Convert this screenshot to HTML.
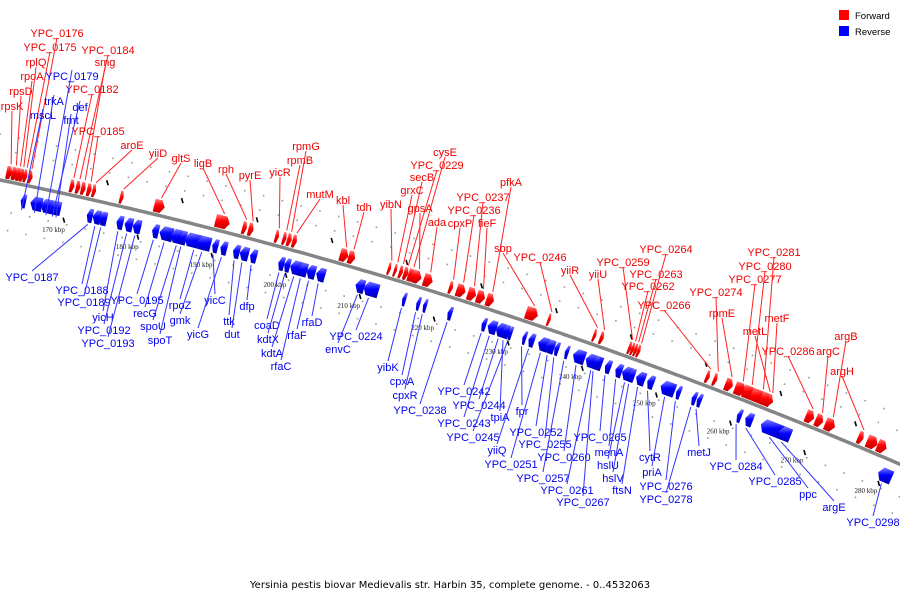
<!DOCTYPE html>
<html><head><meta charset="utf-8"><style>
body{margin:0;background:#fff;}
svg{display:block;font-family:"Liberation Sans",sans-serif;}
</style></head><body>
<svg id="chart" width="900" height="600" viewBox="0 0 900 600">
<defs>
<linearGradient id="gr" x1="0" y1="0" x2="0" y2="1"><stop offset="0" stop-color="#ff8080"/><stop offset="0.45" stop-color="#ff0000"/><stop offset="1" stop-color="#c00000"/></linearGradient>
<linearGradient id="gb" x1="0" y1="0" x2="0" y2="1"><stop offset="0" stop-color="#8080ff"/><stop offset="0.45" stop-color="#0000ff"/><stop offset="1" stop-color="#0000b0"/></linearGradient>
</defs>
<g id="marks"></g>
<g id="legend">
<rect x="839" y="10" width="10" height="10" fill="#f00"/>
<text x="855" y="19" font-size="9.5">Forward</text>
<rect x="839" y="26" width="10" height="10" fill="#00f"/>
<text x="855" y="35" font-size="9.5">Reverse</text>
</g>
<text x="450" y="588" text-anchor="middle" font-size="10" font-family="DejaVu Sans, sans-serif">Yersinia pestis biovar Medievalis str. Harbin 35, complete genome. - 0..4532063</text>
</svg>
<script>
// ---- data ----
const fwdNames=["rpsK","rpsD","rpoA","rplQ","YPC_0175","YPC_0176","YPC_0182","YPC_0184","smg","YPC_0185","aroE","yiiD","gltS","ligB","rph","pyrE","yicR","rpmB","rpmG","mutM","kbl","tdh","yibN","grxC","secB","YPC_0229","cysE","gpsA","ada","cpxP","YPC_0236","YPC_0237","fieF","pfkA","sbp","YPC_0246","yiiR","yiiU","YPC_0259","YPC_0262","YPC_0263","YPC_0264","YPC_0266","YPC_0274","rpmE","YPC_0277","YPC_0280","YPC_0281","metL","metF","YPC_0286","argC","argB","argH","","",""];
const fwdKbp=[162.3,163.0,163.6,164.1,164.6,165.2,170.8,171.6,172.3,173.1,173.8,177.5,182.1,190.3,193.9,194.7,198.3,199.3,199.9,200.6,207.0,208.1,213.4,214.2,214.9,215.5,216.1,216.7,218.2,221.6,222.6,224.1,225.3,226.6,231.9,234.8,240.9,241.8,245.6,246.0,246.4,246.8,256.0,257.0,258.6,259.9,261.0,262.1,263.4,264.3,269.4,270.7,272.0,276.4,277.6,279.0];
const fwdLen=[0.8,0.8,0.7,0.6,0.5,0.6,0.6,0.6,0.6,0.6,0.5,0.5,1.4,1.9,0.6,0.7,0.5,0.5,0.6,0.6,1.1,0.9,0.4,0.4,0.5,0.6,0.9,1.2,1.2,0.5,1.2,1.1,1.1,1.0,1.6,0.4,0.4,0.5,0.4,0.4,0.4,0.4,0.5,0.5,1.0,1.4,1.6,2.4,1.6,0.5,1.1,1.0,1.3,0.7,1.4,1.2];
const revNames=["mscL","trkA","YPC_0179","def","fmt","YPC_0187","YPC_0188","YPC_0189","yicH","YPC_0192","YPC_0193","YPC_0195","recG","spoU","spoT","rpoZ","gmk","yicC","yicG","ttk","dut","dfp","coaD","kdtX","kdtA","rfaC","rfaF","rfaD","envC","YPC_0224","yibK","cpxA","cpxR","YPC_0238","YPC_0242","YPC_0243","YPC_0244","tpiA","YPC_0245","fpr","yiiQ","YPC_0251","YPC_0252","YPC_0255","YPC_0257","YPC_0260","YPC_0261","YPC_0267","YPC_0265","menA","hslU","hslV","ftsN","cytR","priA","YPC_0276","YPC_0278","metJ","YPC_0284","YPC_0285","ppc","argE","YPC_0298"];
const revKbp=[164.9,166.2,167.6,168.8,169.5,173.8,174.6,175.4,177.8,178.9,180.0,182.6,183.6,185.1,186.3,187.0,188.7,190.7,191.8,193.5,194.4,195.8,199.6,200.4,201.2,202.3,203.4,204.7,210.0,211.1,216.3,218.2,219.1,222.4,227.0,227.8,228.9,229.8,230.6,232.5,233.3,234.6,235.6,236.8,238.2,239.3,241.0,242.1,243.6,245.0,245.9,246.8,247.8,249.3,251.1,253.2,255.3,256.0,261.4,262.5,264.6,267.0,280.4];
const revLen=[0.7,1.6,1.9,1.2,0.8,0.8,1.1,1.1,0.9,1.1,1.1,0.9,1.8,2.1,0.9,3.0,1.8,0.8,0.9,0.9,1.2,0.9,0.8,0.8,1.6,1.2,1.2,1.2,1.2,2.0,0.5,0.5,0.5,0.6,0.6,1.2,1.4,0.9,0.5,0.5,0.8,1.4,1.2,0.6,0.5,1.6,2.2,0.6,0.8,0.9,1.5,0.8,1.2,0.9,1.9,0.6,0.6,0.6,0.6,1.0,3.2,1.6,1.8];
const tickKbp=[170,180,190,200,210,220,230,240,250,260,270,280];
const tickLabels=["170 kbp","180 kbp","190 kbp","200 kbp","210 kbp","220 kbp","230 kbp","240 kbp","250 kbp","260 kbp","270 kbp","280 kbp"];
// ---- label layout (pixel anchor positions for text) ----
const fwdLab=[[12,106],[21,91],[32,76],[36,62],[50,47],[57,33],[92,89],[108,50],[105,62],[98,131],[132,145],[158,153],[181,158],[203,163],[226,169],[250,175],[280,172],[300,160],[306,146],[320,194],[343,200],[364,207],[391,204],[412,190],[422,177],[437,165],[445,152],[420,208],[437,222],[460,223],[474,210],[483,197],[487,223],[511,182],[503,248],[540,257],[570,270],[598,274],[623,262],[648,286],[656,274],[666,249],[664,305],[716,292],[722,313],[755,279],[765,266],[774,252],[755,331],[777,318],[788,351],[828,351],[846,336],[842,371],null,null,null];
const revLab=[[43,115],[54,101],[72,76],[80,107],[71,120],[32,277],[82,290],[84,302],[103,317],[104,330],[108,343],[137,300],[145,313],[153,326],[160,340],[180,305],[180,320],[215,300],[198,334],[229,321],[232,334],[247,306],[267,325],[268,339],[272,353],[281,366],[297,335],[312,322],[338,349],[356,336],[388,367],[402,381],[405,395],[420,410],[464,391],[464,423],[479,405],[500,417],[473,437],[522,411],[497,450],[511,464],[536,432],[545,444],[543,478],[564,457],[567,490],[583,502],[600,437],[609,452],[608,465],[613,478],[622,490],[650,457],[652,472],[666,486],[666,499],[699,452],[736,466],[775,481],[808,494],[834,507],[873,522]];

// ---- axis functions ----
function kx(k){return 62+(k-170)*7.45;}
function cy(x){return 180+0.2033*x+1.25e-4*x*x;}
function slope(x){return 0.2033+2*1.25e-4*x;}
function P(k,off){const x=kx(k),s=slope(x),n=Math.sqrt(1+s*s);return [x-s*off/n, cy(x)+off/n];}
const NS="http://www.w3.org/2000/svg";
const g=document.getElementById('marks');
function mk(tag,attrs){const e=document.createElementNS(NS,tag);for(const a in attrs)e.setAttribute(a,attrs[a]);g.appendChild(e);return e;}

// dots
for(let k=158;k<=288;k+=2.5){
  [-30,30,-45,48].forEach(o=>{const p=P(k+(o>0?1:0),o);if(p[0]>0&&p[0]<900){const d=mk('rect',{x:p[0]-0.8,y:p[1]-0.8,width:1.6,height:1.6,fill:'#999'});}});
}
// axis line
let dpath='';for(let x=-5;x<=905;x+=5){dpath+=(x===-5?'M':'L')+x+','+cy(x).toFixed(1);}
const ax=mk('path',{d:dpath,stroke:'#858585','stroke-width':3.5,fill:'none'});

// kbp ticks
tickKbp.forEach((k,i)=>{
  const p=P(k,40);
  const t=mk('text',{x:p[0],y:p[1],'font-size':7,'text-anchor':'middle','font-family':'Liberation Serif, serif',fill:'#222'});
  t.textContent=tickLabels[i];
  
  const q=P(k+1,26);
  const m=mk('line',{x1:q[0]-0.7,y1:q[1]-2.5,x2:q[0]+0.7,y2:q[1]+2.5,stroke:'#000','stroke-width':1.6});
  
  const q2=P(k+5.5,-20);
  const m2=mk('line',{x1:q2[0]-0.7,y1:q2[1]-2.5,x2:q2[0]+0.7,y2:q2[1]+2.5,stroke:'#000','stroke-width':1.6});
  
});
function gene(k,len,fwd,name,lab){
  const off=fwd?-9:16,h=fwd?6.5:7;
  const a=k,b=k+len,tip=Math.min(len*0.4,0.5);
  let pts;
  if(fwd){pts=[P(a,off-h),P(b-tip,off-h),P(b,off),P(b-tip,off+h),P(a,off+h)];}
  else{pts=[P(a+tip,off-h),P(b,off-h),P(b,off+h),P(a+tip,off+h),P(a,off)];}
  const poly=mk('polygon',{points:pts.map(p=>p[0].toFixed(1)+','+p[1].toFixed(1)).join(' '),fill:fwd?'url(#gr)':'url(#gb)'});
  
  
  if(lab&&name){
    const c=P(k+len/2,fwd?off-h-2:off+h+2);
    const col=fwd?'#f22':'#33f';
    const ly=fwd?lab[1]+5:lab[1]-6;
    const ln=mk('line',{x1:c[0],y1:c[1],x2:lab[0],y2:ly,stroke:col,'stroke-width':1});
    
    const t=mk('text',{x:lab[0],y:lab[1]+4,'font-size':11,'text-anchor':'middle',fill:fwd?'#e00':'#00e'});
    t.textContent=name;
    
  }
}
fwdKbp.forEach((k,i)=>gene(k,fwdLen[i],true,fwdNames[i],fwdLab[i]));
revKbp.forEach((k,i)=>gene(k,revLen[i],false,revNames[i],revLab[i]));
</script>
</body></html>
